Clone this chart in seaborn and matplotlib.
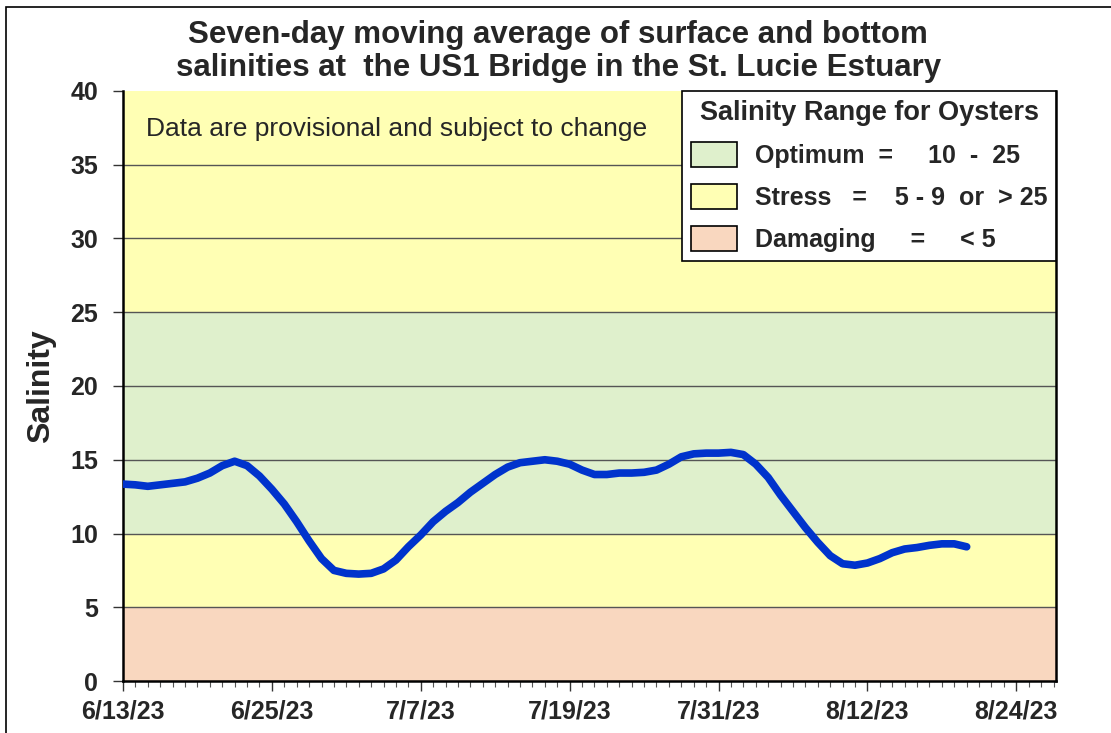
import numpy as np
import pandas as pd
import matplotlib
matplotlib.use("Agg")
import matplotlib.pyplot as plt
import matplotlib.dates as mdates
from matplotlib.patches import Patch
import seaborn as sns

# ---- data ----
start_date = "2023-06-13"
salinity = [13.35, 13.3, 13.2, 13.3, 13.4, 13.5, 13.75, 14.1, 14.6, 14.9,
            14.6, 13.9, 13.0, 12.0, 10.8, 9.5, 8.3, 7.5, 7.3, 7.25,
            7.3, 7.6, 8.2, 9.1, 9.9, 10.8, 11.5, 12.1, 12.8, 13.4,
            14.0, 14.5, 14.8, 14.9, 15.0, 14.9, 14.7, 14.3, 14.0, 14.0,
            14.1, 14.1, 14.15, 14.3, 14.7, 15.2, 15.4, 15.45, 15.45, 15.5,
            15.35, 14.7, 13.8, 12.6, 11.5, 10.4, 9.4, 8.5, 7.95, 7.85,
            8.0, 8.3, 8.7, 8.95, 9.05, 9.2, 9.3, 9.3, 9.1]
dates = pd.date_range(start_date, periods=len(salinity), freq="D")

band_edges = [0, 5, 10, 25, 40]
band_colors = ["#F9D7BF", "#FFFFB4", "#DFF0CC", "#FFFFB4"]
legend_labels = ["Optimum  =     10  -  25",
                 "Stress   =    5 - 9  or  > 25",
                 "Damaging     =     < 5"]
legend_colors = ["#DFF0CC", "#FFFFB4", "#F9D7BF"]
tick_dates = pd.date_range("2023-06-13", "2023-08-24", freq="12D")

df = pd.DataFrame({"date": dates, "salinity": salinity})

sns.set_theme(style="white")
plt.rcParams["font.family"] = ["Liberation Sans", "DejaVu Sans"]

fig = plt.figure(figsize=(11.11, 7.33), dpi=100)
ax = fig.add_axes([0.1107, 0.0709, 0.8398, 0.8050])

x0 = mdates.date2num(pd.Timestamp("2023-06-13"))
x1 = x0 + 75.2
for lo, hi, c in zip(band_edges[:-1], band_edges[1:], band_colors):
    ax.axhspan(lo, hi, color=c, zorder=0, lw=0)
for yv in range(5, 40, 5):
    ax.axhline(yv, color="#555555", lw=1.0, zorder=1)

sns.lineplot(data=df, x="date", y="salinity", ax=ax, color="#0033CC",
             lw=5.5, zorder=3, solid_capstyle="round")

ax.set_xlim(x0, x1)
ax.set_ylim(0, 40)
ax.set_yticks(range(0, 41, 5))
ax.set_xticks(mdates.date2num(tick_dates))
ax.set_xticklabels([f"{d.month}/{d.day}/{d.strftime('%y')}" for d in tick_dates])
ax.xaxis.set_minor_locator(mdates.DayLocator())
ax.tick_params(axis="both", which="major", labelsize=18, length=7, width=1,
               direction="out", color="#333333", bottom=True, left=True)
ax.tick_params(axis="y", which="major", pad=11)
ax.tick_params(axis="x", which="major", pad=6)
ax.tick_params(axis="x", which="minor", length=4, width=0.8, color="#555555",
               bottom=True)
for lab in ax.get_xticklabels() + ax.get_yticklabels():
    lab.set_fontweight("bold")

ax.set_xlabel("")
ax.set_ylabel("Salinity", fontsize=23, fontweight="bold", labelpad=10)

for side in ["left", "bottom", "right"]:
    ax.spines[side].set_visible(True)
    ax.spines[side].set_color("black")
    ax.spines[side].set_linewidth(1.8)
ax.spines["top"].set_visible(False)

fig.text(0.5025, 0.930, "Seven-day moving average of surface and bottom\nsalinities at  the US1 Bridge in the St. Lucie Estuary",
         fontsize=22.5, fontweight="bold", ha="center", va="center", linespacing=1.12)

ax.text(0.025, 0.935, "Data are provisional and subject to change",
        transform=ax.transAxes, fontsize=19, va="center", ha="left")

handles = [Patch(facecolor=c, edgecolor="black", lw=1.2) for c in legend_colors]
leg = ax.legend(handles, legend_labels, loc="upper right",
                bbox_to_anchor=(1.0, 1.0), borderaxespad=0, frameon=True,
                fancybox=False, title="Salinity Range for Oysters",
                prop={"weight": "bold", "size": 18}, handlelength=1.85,
                handleheight=1.15, labelspacing=0.65, handletextpad=0.7,
                borderpad=0.35)
leg.get_title().set_fontweight("bold")
leg.get_title().set_fontsize(19.5)
leg.get_frame().set_edgecolor("black")
leg.get_frame().set_linewidth(1.2)
leg.get_frame().set_alpha(1)
leg.set_zorder(5)

fig.patches.append(plt.Rectangle((0.0055, -0.05), 1.1, 1.04, transform=fig.transFigure,
                                 fill=False, edgecolor="black", lw=1.2))

fig.savefig("out.png", dpi=100)
